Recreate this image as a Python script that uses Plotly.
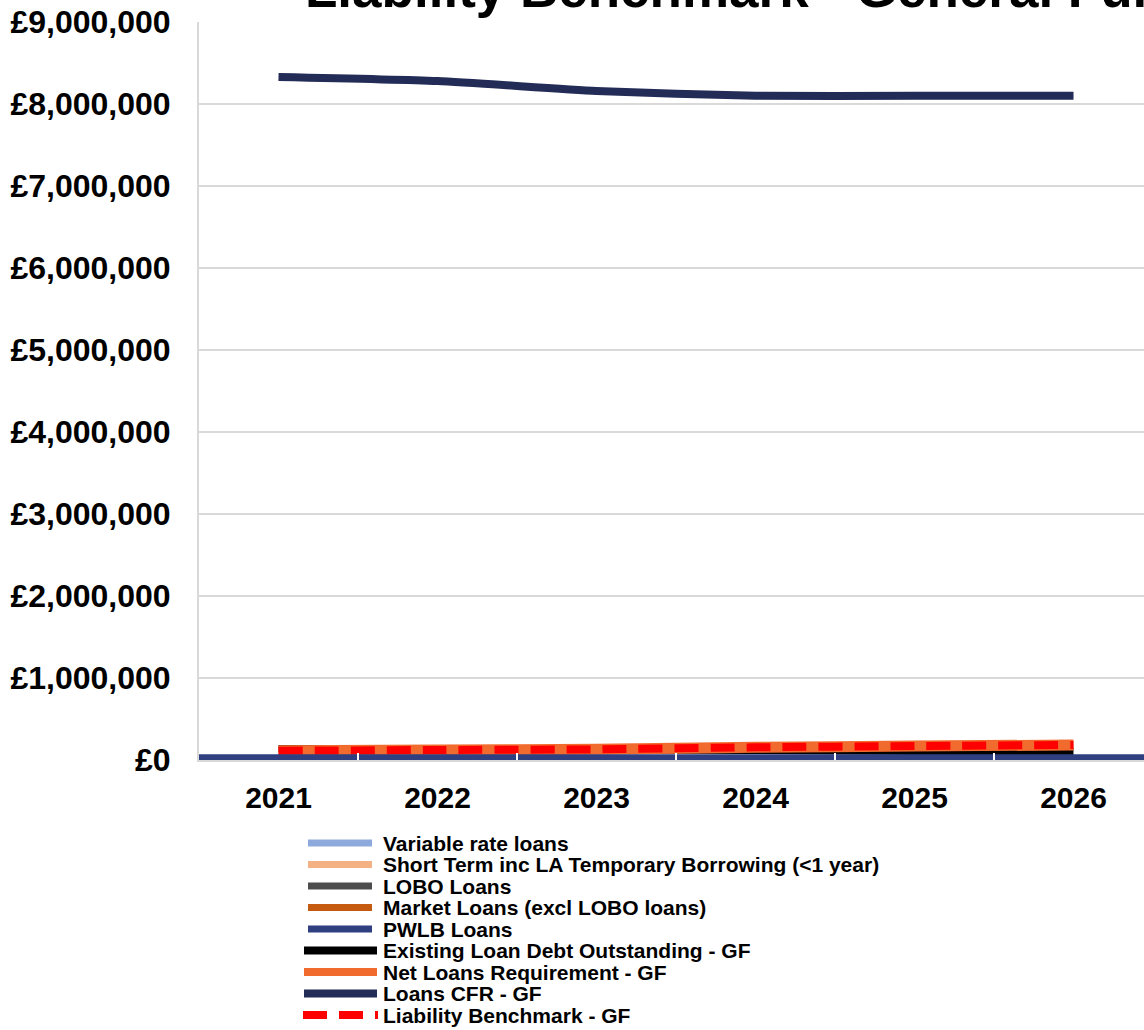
import plotly.graph_objects as go

# ---------------- data ----------------
years = ["2021", "2022", "2023", "2024", "2025", "2026"]
year_nums = [2021, 2022, 2023, 2024, 2025, 2026]

variable_rate = [0, 0, 0, 0, 0, 0]
short_term = [0, 0, 0, 0, 0, 0]
lobo = [0, 0, 0, 0, 0, 0]
market = [0, 0, 0, 0, 0, 0]
pwlb = [70000, 70000, 70000, 70000, 70000, 70000]

existing_debt = [140000, 135000, 125000, 115000, 105000, 100000]
net_loans_req = [113000, 122000, 130000, 155000, 170000, 183000]
loans_cfr = [8330000, 8280000, 8160000, 8100000, 8100000, 8100000]
liability_bm = [113000, 122000, 130000, 155000, 170000, 183000]

title_text = "Liability Benchmark - General Fund"

# ---------------- styles ----------------
FONT = "Liberation Sans, Arial, sans-serif"
W, H = 1144, 1030
PL, PR, PT, PB = 199, 1144, 22, 760  # plot area pixel box

col = {
    "Variable rate loans": "#8EA9DB",
    "Short Term inc LA Temporary Borrowing (<1 year)": "#F4B183",
    "LOBO Loans": "#4D4D4D",
    "Market Loans (excl LOBO loans)": "#C55A11",
    "PWLB Loans": "#2F3F80",
    "Existing Loan Debt Outstanding - GF": "#000000",
    "Net Loans Requirement - GF": "#F26B2E",
    "Loans CFR - GF": "#232B57",
    "Liability Benchmark - GF": "#FF0000",
}

fig = go.Figure()

# stacked areas (bottom first)
areas = [
    ("PWLB Loans", pwlb),
    ("Market Loans (excl LOBO loans)", market),
    ("LOBO Loans", lobo),
    ("Short Term inc LA Temporary Borrowing (<1 year)", short_term),
    ("Variable rate loans", variable_rate),
]
for name, vals in areas:
    fig.add_trace(go.Scatter(
        x=year_nums, y=vals, name=name, mode="lines",
        stackgroup="debt", fillcolor=col[name],
        line=dict(width=0, color=col[name]),
        xaxis="x2", yaxis="y", showlegend=False, hoverinfo="skip",
    ))

lines = [
    ("Existing Loan Debt Outstanding - GF", existing_debt, 7, "solid"),
    ("Net Loans Requirement - GF", net_loans_req, 11, "solid"),
    ("Loans CFR - GF", loans_cfr, 8, "solid"),
    ("Liability Benchmark - GF", liability_bm, 8, "24px,12px"),
]
for name, vals, w, dash in lines:
    fig.add_trace(go.Scatter(
        x=years, y=vals, name=name, mode="lines",
        line=dict(color=col[name], width=w, dash=dash, shape="spline", smoothing=0.6),
        showlegend=False,
    ))


def px_x(px):
    return (px - PL) / (PR - PL)


def px_y(py):
    return (PB - py) / (PB - PT)


# ---------------- custom legend ----------------
legend_items = [
    ("Variable rate loans", "bar"),
    ("Short Term inc LA Temporary Borrowing (<1 year)", "bar"),
    ("LOBO Loans", "bar"),
    ("Market Loans (excl LOBO loans)", "bar"),
    ("PWLB Loans", "bar"),
    ("Existing Loan Debt Outstanding - GF", "line"),
    ("Net Loans Requirement - GF", "line"),
    ("Loans CFR - GF", "line"),
    ("Liability Benchmark - GF", "dash"),
]
annotations = []
shapes = []
y0 = 843
step = 21.5
for i, (name, kind) in enumerate(legend_items):
    yc = y0 + i * step
    annotations.append(dict(
        x=px_x(381), y=px_y(yc), xref="paper", yref="paper",
        xanchor="left", yanchor="middle", showarrow=False,
        text=f"<b>{name}</b>", font=dict(family=FONT, size=21, color="#000000"),
    ))
    if kind == "bar":
        shapes.append(dict(type="line", xref="paper", yref="paper",
                           x0=px_x(308), x1=px_x(372), y0=px_y(yc), y1=px_y(yc),
                           line=dict(color=col[name], width=7)))
    elif kind == "line":
        shapes.append(dict(type="line", xref="paper", yref="paper",
                           x0=px_x(304), x1=px_x(377), y0=px_y(yc), y1=px_y(yc),
                           line=dict(color=col[name], width=8)))
    else:
        shapes.append(dict(type="line", xref="paper", yref="paper",
                           x0=px_x(303), x1=px_x(378), y0=px_y(yc), y1=px_y(yc),
                           line=dict(color=col[name], width=8, dash="24px,12px")))

# title (cut off at top as in reference)
annotations.append(dict(
    x=px_x(751), y=px_y(-12), xref="paper", yref="paper",
    xanchor="center", yanchor="middle", showarrow=False,
    text=f"<b>{title_text}</b>", font=dict(family=FONT, size=53, color="#000000"),
))

fig.update_layout(
    width=W, height=H,
    margin=dict(l=PL, r=W - PR, t=PT, b=H - PB, pad=0),
    paper_bgcolor="white", plot_bgcolor="white",
    showlegend=False,
    font=dict(family=FONT, color="#000000"),
    xaxis=dict(
        type="category", range=[-0.5, -0.5 + (PR - PL) / 159.0],
        showline=True, linecolor="#D9D9D9", linewidth=2,
        ticks="inside", tickson="boundaries", ticklen=7, tickcolor="#FFFFFF", tickwidth=2,
        tickfont=dict(family=FONT, size=30, color="#000000", weight="bold"),
        ticklabelstandoff=10, showgrid=False, zeroline=False, layer="above traces",
    ),
    xaxis2=dict(
        overlaying="x", range=[2021, 2021 + 5 * (PR - PL) / 954.0],
        visible=False, showgrid=False, zeroline=False,
    ),
    yaxis=dict(
        range=[0, 9000000], dtick=1000000, tick0=0,
        tickprefix="£", tickformat=",d",
        showgrid=True, gridcolor="#D9D9D9", gridwidth=2,
        showline=True, linecolor="#D9D9D9", linewidth=2,
        ticks="", ticklabelstandoff=20, zeroline=False,
        tickfont=dict(family=FONT, size=32, color="#000000", weight="bold"),
    ),
    annotations=annotations,
    shapes=shapes,
)

fig.write_html("out.html")
